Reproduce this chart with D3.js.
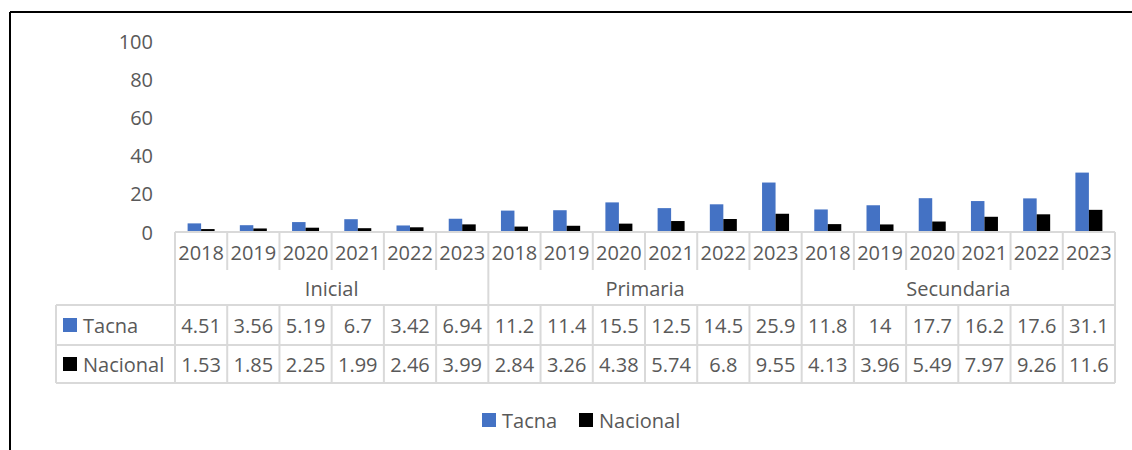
<!DOCTYPE html>
<html lang="es">
<head>
<meta charset="UTF-8">
<title>Tacna vs Nacional</title>
<script src="https://d3js.org/d3.v7.min.js"></script>
<style>
  body { margin: 0; background: #fff; }
  text { font-family: "Open Sans", sans-serif; fill: #595959; }
</style>
</head>
<body>
<svg width="1132" height="450"></svg>
<script>
// data
const levels = ["Inicial", "Primaria", "Secundaria"];
const years = ["2018", "2019", "2020", "2021", "2022", "2023"];
const seriesNames = ["Tacna", "Nacional"];
const tacna = [4.51, 3.56, 5.19, 6.7, 3.42, 6.94,
               11.2, 11.4, 15.5, 12.5, 14.5, 25.9,
               11.8, 14, 17.7, 16.2, 17.6, 31.1];
const nacional = [1.53, 1.85, 2.25, 1.99, 2.46, 3.99,
                  2.84, 3.26, 4.38, 5.74, 6.8, 9.55,
                  4.13, 3.96, 5.49, 7.97, 9.26, 11.6];
const yTicks = [0, 20, 40, 60, 80, 100];

const colors = { Tacna: "#4472C4", Nacional: "#000000" };
const gridColor = "#d9d9d9";

const svg = d3.select("svg");

// outer frame (only left & top visible)
svg.append("line").attr("x1", 10).attr("x2", 10).attr("y1", 12).attr("y2", 450)
    .attr("stroke", "#000").attr("stroke-width", 2);
svg.append("line").attr("x1", 10).attr("x2", 1132).attr("y1", 12).attr("y2", 12)
    .attr("stroke", "#000").attr("stroke-width", 2);

// columns: one per level+year
const cols = [];
levels.forEach(l => years.forEach(y => cols.push(l + "|" + y)));

const x = d3.scaleBand().domain(cols).range([175, 1115]);
const y = d3.scaleLinear().domain([0, 100]).range([232, 41]);
const inner = d3.scaleBand().domain(seriesNames).range([0, 27]);

// y axis labels
svg.append("g").selectAll("text")
    .data(yTicks).join("text")
    .attr("x", 153).attr("y", d => y(d))
    .attr("text-anchor", "end").attr("dominant-baseline", "central")
    .attr("font-size", 20)
    .text(d => d);

// bars
const series = { Tacna: tacna, Nacional: nacional };
seriesNames.forEach(s => {
    svg.append("g").selectAll("rect")
        .data(series[s]).join("rect")
        .attr("x", (d, i) => x(cols[i]) + (x.bandwidth() - 27) / 2 + inner(s))
        .attr("width", inner.bandwidth())
        .attr("y", d => y(d))
        .attr("height", d => y(0) - y(d))
        .attr("fill", colors[s]);
});

// table
const rowTop = 232, yearBottom = 270, r1 = 305, r2 = 345, r3 = 383;
const labelLeft = 56;
const g = svg.append("g").attr("stroke", gridColor).attr("stroke-width", 2);

g.append("line").attr("x1", 175).attr("x2", 1115).attr("y1", rowTop).attr("y2", rowTop);
[r1, r2, r3].forEach(yy => {
    g.append("line").attr("x1", labelLeft).attr("x2", 1115).attr("y1", yy).attr("y2", yy);
});
g.append("line").attr("x1", labelLeft).attr("x2", labelLeft).attr("y1", r1).attr("y2", r3);

cols.forEach((c, i) => {
    const xx = x(c);
    const groupEdge = i % years.length === 0;
    g.append("line").attr("x1", xx).attr("x2", xx)
        .attr("y1", groupEdge ? rowTop : r1).attr("y2", r3);
    if (!groupEdge) {
        g.append("line").attr("x1", xx).attr("x2", xx).attr("y1", rowTop).attr("y2", yearBottom);
    }
});
g.append("line").attr("x1", 1115).attr("x2", 1115).attr("y1", rowTop).attr("y2", r3);

// year labels
svg.append("g").selectAll("text")
    .data(cols).join("text")
    .attr("x", d => x(d) + x.bandwidth() / 2).attr("y", 252)
    .attr("text-anchor", "middle").attr("dominant-baseline", "central")
    .attr("font-size", 20)
    .text(d => d.split("|")[1]);

// level labels
svg.append("g").selectAll("text")
    .data(levels).join("text")
    .attr("x", (d, i) => {
        const a = x(d + "|" + years[0]);
        const b = x(d + "|" + years[years.length - 1]) + x.bandwidth();
        return (a + b) / 2;
    })
    .attr("y", 288)
    .attr("text-anchor", "middle").attr("dominant-baseline", "central")
    .attr("font-size", 20)
    .text(d => d);

// data rows
const rowMid = { Tacna: (r1 + r2) / 2, Nacional: (r2 + r3) / 2 };
seriesNames.forEach(s => {
    const cy = rowMid[s];
    svg.append("rect").attr("x", 63).attr("y", cy - 7).attr("width", 14).attr("height", 14)
        .attr("fill", colors[s]);
    svg.append("text").attr("x", 83).attr("y", cy)
        .attr("dominant-baseline", "central").attr("font-size", 20).text(s);
    svg.append("g").selectAll("text")
        .data(series[s]).join("text")
        .attr("x", (d, i) => x(cols[i]) + x.bandwidth() / 2).attr("y", cy)
        .attr("text-anchor", "middle").attr("dominant-baseline", "central")
        .attr("font-size", 20)
        .text(d => d);
});

// legend
const legendItems = [{ name: "Tacna", x: 482 }, { name: "Nacional", x: 579 }];
legendItems.forEach(it => {
    svg.append("rect").attr("x", it.x).attr("y", 413).attr("width", 14).attr("height", 14)
        .attr("fill", colors[it.name]);
    svg.append("text").attr("x", it.x + 20).attr("y", 420)
        .attr("dominant-baseline", "central").attr("font-size", 20).text(it.name);
});
</script>
</body>
</html>
